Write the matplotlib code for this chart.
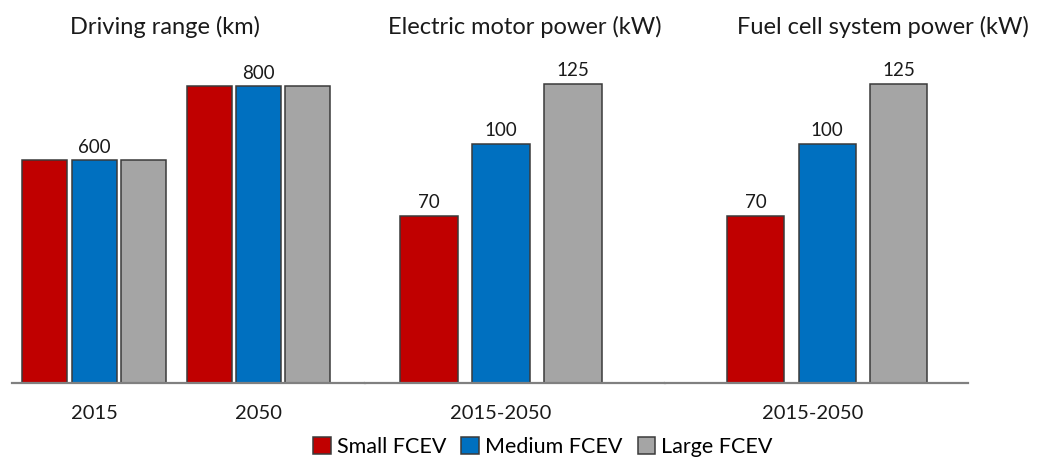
import matplotlib.pyplot as plt
import numpy as np

plt.rcParams["font.family"] = ["Lato", "DejaVu Sans"]

vehicles = ["Small FCEV", "Medium FCEV", "Large FCEV"]
colors = ["#C00000", "#0070C0", "#A5A5A5"]

range_years = ["2015", "2050"]
range_2015 = [600, 600, 600]
range_2050 = [800, 800, 800]
motor_kw = [70, 100, 125]
fc_kw = [70, 100, 125]
period = "2015-2050"

W, H = 1048, 459
fig = plt.figure(figsize=(W / 100, H / 100), dpi=100)

base_px = 383
top_px = 60


def add_ax(x0, x1):
    ax = fig.add_axes([x0 / W, (H - base_px) / H, (x1 - x0) / W, (base_px - top_px) / H])
    for s in ["top", "right", "left"]:
        ax.spines[s].set_visible(False)
    ax.spines["bottom"].set_color("#808080")
    ax.spines["bottom"].set_linewidth(1.6)
    ax.set_yticks([])
    ax.tick_params(axis="x", length=0, pad=16, labelsize=14.5, labelcolor="#1a1a1a")
    return ax


edge = dict(edgecolor="#3a3a3a", linewidth=1.1)
lab = dict(ha="center", va="bottom", fontsize=13.5, color="#1a1a1a")

# driving range
ax1 = add_ax(12, 365)
step1, w1 = 0.30, 0.274
for i, vals in enumerate([range_2015, range_2050]):
    for j, v in enumerate(vals):
        ax1.bar(i + (j - 1) * step1, v, w1, color=colors[j], **edge)
    ax1.text(i, vals[1] + 12, f"{vals[1]}", **lab)
ax1.set_xticks([0, 1])
ax1.set_xticklabels(range_years)
ax1.set_xlim(-0.5, 1.65)
ax1.set_ylim(0, 800 * 323 / 297)

# electric motor power
ax2 = add_ax(365, 665)
x2 = np.arange(3) - 1
ax2.bar(x2, motor_kw, 0.8, color=colors, **edge)
for x, v in zip(x2, motor_kw):
    ax2.text(x, v + 2, f"{v}", **lab)
ax2.set_xticks([0])
ax2.set_xticklabels([period])
ax2.set_xlim(-1.89, 2.28)
ax2.set_ylim(0, 125 * 323 / 299)

# fuel cell system power
ax3 = add_ax(665, 968)
ax3.bar(x2, fc_kw, 0.8, color=colors, **edge)
for x, v in zip(x2, fc_kw):
    ax3.text(x, v + 2, f"{v}", **lab)
ax3.set_xticks([-0.2])
ax3.set_xticklabels([period])
ax3.set_xlim(-2.27, 1.97)
ax3.set_ylim(0, 125 * 323 / 299)

title_kw = dict(ha="center", va="center", fontsize=17, color="#1a1a1a")
fig.text(165 / W, 1 - 27 / H, "Driving range (km)", **title_kw)
fig.text(525 / W, 1 - 27 / H, "Electric motor power (kW)", **title_kw)
fig.text(883 / W, 1 - 27 / H, "Fuel cell system power (kW)", **title_kw)

handles = [plt.Rectangle((0, 0), 1, 1, facecolor=c, edgecolor="#3a3a3a", linewidth=1.1)
           for c in colors]
fig.legend(handles, vehicles, loc="center", bbox_to_anchor=(543 / W, 1 - 447 / H),
           ncol=3, frameon=False, fontsize=15.5, handlelength=0.8, handleheight=0.8,
           handletextpad=0.3, columnspacing=0.7, borderpad=0.1)

fig.savefig("out.png", dpi=100)
